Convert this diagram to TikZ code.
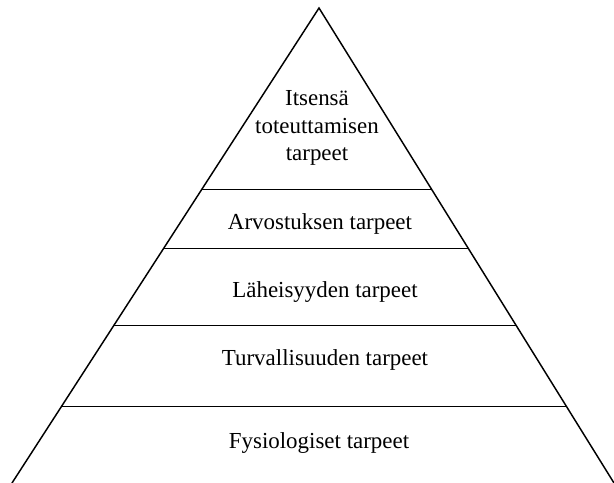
\documentclass[tikz,border=0pt]{standalone}
\usepackage{fontspec}
\setmainfont{Liberation Serif}
\usetikzlibrary{calc}
\begin{document}
\begin{tikzpicture}[x=0.75pt,y=-0.75pt,
  side/.style={line width=1.1pt,line cap=round},
  level/.style={line width=0.8pt},
  lbl/.style={anchor=base,inner sep=0pt,font=\fontsize{17.2pt}{20.5pt}\selectfont}]
\useasboundingbox (0,0) rectangle (614,482);
\coordinate (apex) at (319,8);
\coordinate (bl) at (12,483);
\coordinate (br) at (614,483);
\draw[side] (bl) -- (apex) -- (br);
\foreach \t/\n in {0.3819/a,0.5063/b,0.6688/c,0.8397/d}{
  \coordinate (l\n) at ($(apex)!\t!(bl)$);
  \coordinate (r\n) at ($(apex)!\t!(br)$);
  \draw[level] (l\n) -- (r\n);
}
\node[lbl] (t1) at (317,105) {Itsensä};
\node[lbl] (t2) at (317,133) {toteuttamisen};
\node[lbl] (t3) at (317,160) {tarpeet};
\node[lbl] (t4) at (320,229) {Arvostuksen tarpeet};
\node[lbl] (t5) at (325,297) {Läheisyyden tarpeet};
\node[lbl] (t6) at (325,365) {Turvallisuuden tarpeet};
\node[lbl] (t7) at (319,448) {Fysiologiset tarpeet};
\end{tikzpicture}
\end{document}
